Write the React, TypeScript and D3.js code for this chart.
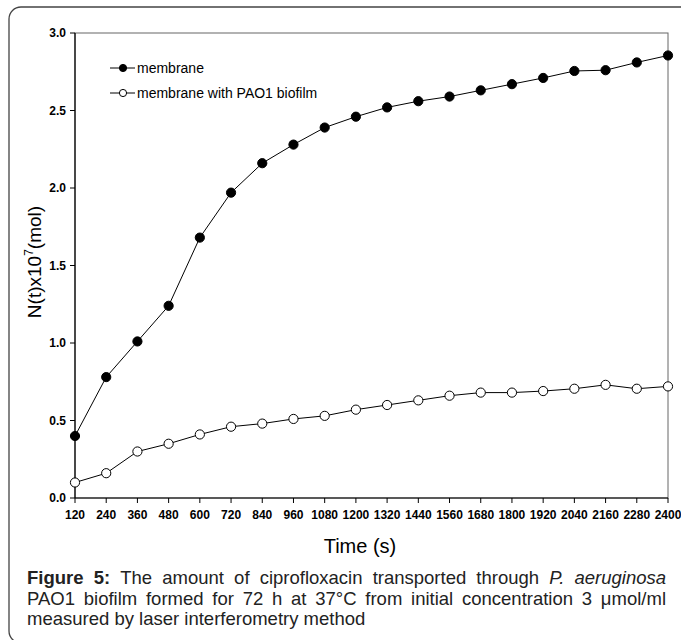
import React, { useMemo } from "react";
import * as d3 from "d3";

const times = [120, 240, 360, 480, 600, 720, 840, 960, 1080, 1200, 1320, 1440, 1560, 1680, 1800, 1920, 2040, 2160, 2280, 2400];
const membrane = [0.40, 0.78, 1.01, 1.24, 1.68, 1.97, 2.16, 2.28, 2.39, 2.46, 2.52, 2.56, 2.59, 2.63, 2.67, 2.71, 2.755, 2.76, 2.81, 2.855];
const biofilm = [0.10, 0.16, 0.30, 0.35, 0.41, 0.46, 0.48, 0.51, 0.53, 0.57, 0.60, 0.63, 0.66, 0.68, 0.68, 0.69, 0.705, 0.73, 0.705, 0.72];
const yTicks = [0, 0.5, 1.0, 1.5, 2.0, 2.5, 3.0];
const seriesNames = ["membrane", "membrane with PAO1 biofilm"];
const xTitle = "Time (s)";

type Word = { t: string; b?: boolean; i?: boolean };
const captionLines: { words: Word[]; justify: boolean }[] = [
  {
    words: [
      { t: "Figure", b: true }, { t: "5:", b: true }, { t: "The" }, { t: "amount" }, { t: "of" },
      { t: "ciprofloxacin" }, { t: "transported" }, { t: "through" }, { t: "P.", i: true }, { t: "aeruginosa", i: true },
    ],
    justify: true,
  },
  {
    words: "PAO1 biofilm formed for 72 h at 37°C from initial concentration 3 μmol/ml".split(" ").map((t) => ({ t })),
    justify: true,
  },
  {
    words: "measured by laser interferometry method".split(" ").map((t) => ({ t })),
    justify: false,
  },
];

const FONT = "'Liberation Sans', Arial, sans-serif";
const CAP_SIZE = 18.5;

export default function App() {
  const W = 681, H = 640;
  const left = 75, right = 668, top = 33, bottom = 498;
  const x = d3.scaleLinear().domain([120, 2400]).range([left, right]);
  const y = d3.scaleLinear().domain([0, 3]).range([bottom, top]);
  const line = d3.line<number>().x((_, i) => x(times[i])).y((d) => y(d));

  const caption = useMemo(() => {
    const cv = document.createElement("canvas");
    const ctx = cv.getContext("2d")!;
    const cl = 27, cr = 666;
    const measure = (w: Word) => {
      ctx.font = `${w.i ? "italic " : ""}${w.b ? "bold " : ""}${CAP_SIZE}px 'Liberation Sans'`;
      return ctx.measureText(w.t).width;
    };
    ctx.font = `${CAP_SIZE}px 'Liberation Sans'`;
    const sp = ctx.measureText(" ").width;
    return captionLines.map((ln) => {
      const widths = ln.words.map(measure);
      const total = widths.reduce((a, b) => a + b, 0);
      const gap = ln.justify ? (cr - cl - total) / (ln.words.length - 1) : sp;
      let cx = cl;
      return ln.words.map((w, k) => {
        const pos = cx;
        cx += widths[k] + gap;
        return { ...w, x: pos };
      });
    });
  }, []);

  const legendY = [68, 93];

  return (
    <svg width={W} height={H} style={{ position: "absolute", left: 0, top: 0, background: "#fff" }} fontFamily={FONT}>
      <rect x={9} y={7} width={720} height={636} rx={12} ry={12} fill="none" stroke="#444" strokeWidth={1.3} />
      {/* plot frame */}
      <rect x={left} y={top} width={right - left} height={bottom - top} fill="none" stroke="#666" strokeWidth={1} />
      <line x1={left} x2={left} y1={top} y2={bottom} stroke="#000" strokeWidth={1.2} />
      <line x1={left} x2={right} y1={bottom} y2={bottom} stroke="#000" strokeWidth={1.2} />
      {/* x ticks */}
      {times.map((t) => (
        <g key={t}>
          <line x1={x(t)} x2={x(t)} y1={bottom} y2={bottom + 5} stroke="#000" />
          <text x={x(t)} y={bottom + 21} textAnchor="middle" fontSize={12} fontWeight="bold">{t}</text>
        </g>
      ))}
      {/* y ticks */}
      {yTicks.map((v) => (
        <g key={v}>
          <line x1={left - 5} x2={left} y1={y(v)} y2={y(v)} stroke="#000" />
          <text x={left - 9} y={y(v) + 4} textAnchor="end" fontSize={12} fontWeight="bold">{v.toFixed(1)}</text>
        </g>
      ))}
      {/* lines */}
      <path d={line(membrane) || ""} fill="none" stroke="#000" strokeWidth={1} />
      <path d={line(biofilm) || ""} fill="none" stroke="#000" strokeWidth={1} />
      {membrane.map((v, i) => (
        <circle key={"m" + i} cx={x(times[i])} cy={y(v)} r={4.6} fill="#000" stroke="#000" />
      ))}
      {biofilm.map((v, i) => (
        <circle key={"b" + i} cx={x(times[i])} cy={y(v)} r={4.6} fill="#fff" stroke="#000" />
      ))}
      {/* legend */}
      {seriesNames.map((n, k) => (
        <g key={n}>
          <line x1={110} x2={135} y1={legendY[k]} y2={legendY[k]} stroke="#000" />
          <circle cx={123} cy={legendY[k]} r={3.6} fill={k === 0 ? "#000" : "#fff"} stroke="#000" />
          <text x={137} y={legendY[k] + 5} fontSize={14}>{n}</text>
        </g>
      ))}
      {/* axis titles */}
      <text transform="translate(41,262) rotate(-90)" textAnchor="middle" fontSize={19}>
        N(t)x10<tspan fontSize={12} dy={-8}>7</tspan><tspan dy={8}>(mol)</tspan>
      </text>
      <text x={360} y={553} textAnchor="middle" fontSize={20}>{xTitle}</text>
      {/* caption */}
      {caption.map((ln, li) =>
        ln.map((w, k) => (
          <text key={li + "-" + k} x={w.x} y={584 + li * 20.5} fontSize={CAP_SIZE}
            fontWeight={w.b ? "bold" : "normal"} fontStyle={w.i ? "italic" : "normal"} fill="#222">
            {w.t}
          </text>
        ))
      )}
    </svg>
  );
}
